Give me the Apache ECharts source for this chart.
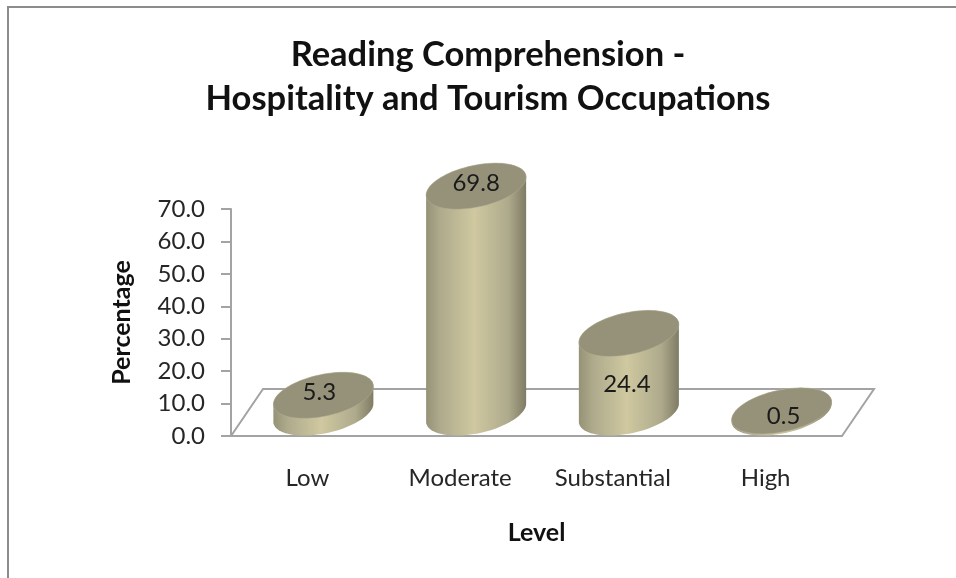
<!DOCTYPE html>
<html>
<head>
<meta charset="utf-8">
<style>
  html, body { margin: 0; padding: 0; background: #fff; }
  #chart { width: 956px; height: 578px; }
</style>
</head>
<body>
<div id="chart"></div>
<script src="https://cdn.jsdelivr.net/npm/echarts@6/dist/echarts.min.js"></script>
<script>
const categories = ['Low', 'Moderate', 'Substantial', 'High'];
const percentages = [5.3, 69.8, 24.4, 0.5];
const yTicks = [0, 70, 10]; // min, max, step

// label nudges, excel puts these by hand
const labelShift = [[-4, -3], [0, -3], [-2, 51], [2, 5]];

const FONT = 'Lato, "Open Sans", sans-serif';
const DEPTH_X = 32;
const DEPTH_Y = 47;
const RX = 51;
const RY = 20.8;
const TILT = -12.3 * Math.PI / 180;

// half an ellipse, from startT over half a turn
function halfEllipse(cx, cy, startT) {
  const pts = [];
  for (let k = 0; k <= 40; k++) {
    const t = startT + Math.PI * k / 40;
    pts.push([
      cx + RX * Math.cos(t) * Math.cos(TILT) - RY * Math.sin(t) * Math.sin(TILT),
      cy + RX * Math.cos(t) * Math.sin(TILT) + RY * Math.sin(t) * Math.cos(TILT)
    ]);
  }
  return pts;
}

function renderFloor(params, api) {
  const cs = params.coordSys;
  const y0 = cs.y + cs.height;
  return {
    type: 'polyline',
    shape: {
      points: [
        [cs.x, y0],
        [cs.x + DEPTH_X, y0 - DEPTH_Y],
        [cs.x + cs.width + DEPTH_X, y0 - DEPTH_Y],
        [cs.x + cs.width, y0]
      ]
    },
    style: { stroke: '#a3a3a3', lineWidth: 2, fill: 'none' }
  };
}

function renderCylinder(params, api) {
  const i = api.value(0);
  const base = api.coord([i, 0]);
  const top = api.coord([i, api.value(1)]);
  const cx = base[0] + DEPTH_X / 2;
  const baseY = base[1] - DEPTH_Y / 2;
  const topY = top[1] - DEPTH_Y / 2;
  const t0 = Math.atan2(-RY * Math.sin(TILT), RX * Math.cos(TILT));
  const shift = labelShift[i];
  return {
    type: 'group',
    children: [
      {
        type: 'polygon',
        shape: {
          points: halfEllipse(cx, baseY, t0).concat(halfEllipse(cx, topY, t0 + Math.PI))
        },
        style: {
          fill: new echarts.graphic.LinearGradient(0, 0, 1, 0, [
            { offset: 0, color: '#959277' },
            { offset: 0.14, color: '#aeaa8c' },
            { offset: 0.48, color: '#cfc8a0' },
            { offset: 0.82, color: '#aeaa8c' },
            { offset: 1, color: '#7f7c65' }
          ])
        }
      },
      {
        type: 'polygon',
        shape: {
          points: halfEllipse(cx, topY, t0).concat(halfEllipse(cx, topY, t0 + Math.PI))
        },
        style: { fill: '#96927a', stroke: '#b5b198', lineWidth: 0.5 }
      },
      {
        type: 'text',
        style: {
          text: api.value(1).toFixed(1),
          x: cx + shift[0],
          y: topY + shift[1],
          align: 'center',
          verticalAlign: 'middle',
          font: '24px ' + FONT,
          fill: '#1a1a1a'
        }
      }
    ]
  };
}

const chart = echarts.init(document.getElementById('chart'));
chart.setOption({
  animation: false,
  title: {
    text: 'Reading Comprehension -\nHospitality and Tourism Occupations',
    left: 483,
    top: 28,
    textAlign: 'center',
    textStyle: { fontFamily: FONT, fontSize: 34.5, fontWeight: 'bold', color: '#111', lineHeight: 44 }
  },
  grid: { left: 231, top: 209, width: 611, height: 227 },
  xAxis: {
    type: 'category',
    data: categories,
    name: 'Level',
    nameLocation: 'middle',
    nameGap: 84,
    nameTextStyle: { fontFamily: FONT, fontSize: 25, fontWeight: 'bold', color: '#111' },
    axisTick: { show: false },
    axisLine: { lineStyle: { color: '#a3a3a3', width: 2 } },
    axisLabel: { margin: 30, fontFamily: FONT, fontSize: 24, color: '#262626' }
  },
  yAxis: {
    type: 'value',
    min: yTicks[0],
    max: yTicks[1],
    interval: yTicks[2],
    name: 'Percentage',
    nameLocation: 'middle',
    nameGap: 97,
    nameTextStyle: { fontFamily: FONT, fontSize: 25, fontWeight: 'bold', color: '#111' },
    splitLine: { show: false },
    axisLine: { show: true, lineStyle: { color: '#a3a3a3', width: 2 } },
    axisTick: { show: true, length: 10, lineStyle: { color: '#a3a3a3', width: 2 } },
    axisLabel: { margin: 26, fontFamily: FONT, fontSize: 24, color: '#262626', formatter: (v) => v.toFixed(1) }
  },
  graphic: [
    {
      type: 'polyline',
      silent: true,
      shape: { points: [[8, 578], [8, 7], [956, 7]] },
      style: { stroke: '#8c8c8c', lineWidth: 2, fill: 'none' }
    }
  ],
  series: [
    {
      type: 'custom',
      data: [[0, 0]],
      renderItem: renderFloor,
      silent: true,
      clip: false,
      z: 1
    },
    {
      type: 'custom',
      data: percentages.map((v, i) => [i, v]),
      encode: { x: 0, y: 1 },
      renderItem: renderCylinder,
      clip: false,
      z: 2
    }
  ]
});
</script>
</body>
</html>
